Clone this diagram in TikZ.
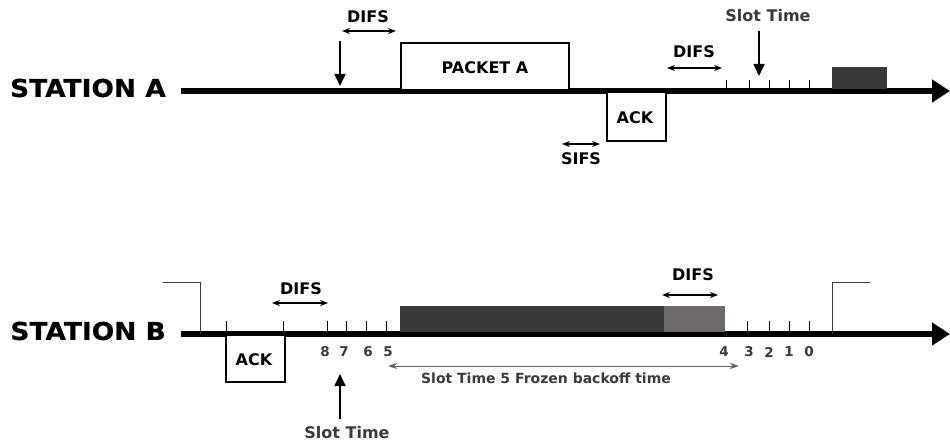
\documentclass[tikz,border=0pt]{standalone}
\usepackage{fontspec}
\setmainfont{DejaVu Sans}
\newfontfamily\widebold[FakeStretch=1.08,FakeBold=0.6]{DejaVu Sans Bold}
\usetikzlibrary{arrows.meta}
\definecolor{darkbar}{HTML}{3B3839}
\definecolor{lightbar}{HTML}{6E696A}
\definecolor{txtgray}{HTML}{3A3A3A}
\tikzset{
  timeline/.style={line width=6pt, -{Triangle[length=18pt,width=22pt]}, color=black},
  tick/.style={line width=1pt},
  lbl/.style={font=\fontsize{16}{16}\selectfont\bfseries, inner sep=0pt},
  small/.style={font=\fontsize{13.5}{13.5}\selectfont\bfseries, inner sep=0pt, text=txtgray},
  station/.style={font=\fontsize{24.5}{24.5}\selectfont\widebold, inner sep=0pt, anchor=east},
  dbl/.style={line width=1.3pt, {Stealth[length=8pt,width=6pt]}-{Stealth[length=8pt,width=6pt]}},
  downarr/.style={line width=1.6pt, -{Triangle[length=12pt,width=11pt]}},
  frame/.style={draw=black, line width=1.6pt, fill=white},
  bracket/.style={line width=1pt, color=txtgray},
}
\begin{document}
\begin{tikzpicture}[x=1pt,y=-1pt]
\useasboundingbox (0,0) rectangle (950,443);
% ---------------- Station A ----------------
\node[station] (sa) at (166,88) {STATION A};
\coordinate (a0) at (181,91);
\coordinate (a1) at (950,91);
\draw[timeline] (a0) -- (a1);
% packet A
\node[frame, minimum width=168pt, minimum height=47pt, anchor=south west] (pa) at (400,91) {};
\node[lbl] (pat) at (485,68) {PACKET A};
% ACK A
\node[frame, minimum width=59pt, minimum height=49pt, anchor=north west] (acka) at (606,91) {};
\node[lbl] (ackat) at (635,118) {ACK};
% DIFS 1
\node[lbl] (d1) at (368,17) {DIFS};
\coordinate (d1l) at (342,31); \coordinate (d1r) at (396,31);
\draw[dbl] (d1l) -- (d1r);
\coordinate (aa0) at (340,41); \coordinate (aa1) at (340,86);
\draw[downarr] (aa0) -- (aa1);
% SIFS
\coordinate (sl) at (562,144); \coordinate (sr) at (600,144);
\draw[dbl] (sl) -- (sr);
\node[lbl] (sifs) at (581,159) {SIFS};
% DIFS 2
\node[lbl] (d2) at (694,52) {DIFS};
\coordinate (d2l) at (667,68); \coordinate (d2r) at (722,68);
\draw[dbl] (d2l) -- (d2r);
% ticks A
\foreach \x [count=\i] in {726,749,769,789,809}{
  \coordinate (ta\i) at (\x,80); \coordinate (tb\i) at (\x,89);
  \draw[tick] (ta\i) -- (tb\i);
}
% slot time A
\node[lbl, text=txtgray] (sta) at (768,16) {Slot Time};
\coordinate (st0) at (759,31); \coordinate (st1) at (759,76);
\draw[downarr] (st0) -- (st1);
% dark box A
\fill[darkbar] (832,67) rectangle (887,89);
% ---------------- Station B ----------------
\node[station] (sb) at (166,331) {STATION B};
\coordinate (b0) at (181,334);
\coordinate (b1) at (950,334);
\draw[timeline] (b0) -- (b1);
% brackets
\coordinate (bl0) at (163,283); \coordinate (bl1) at (200,283); \coordinate (bl2) at (200,334);
\draw[bracket] (bl0) -- (bl1) -- (bl2);
\coordinate (br0) at (832,334); \coordinate (br1) at (832,283); \coordinate (br2) at (870,283);
\draw[bracket] (br0) -- (br1) -- (br2);
% bars
\fill[darkbar] (400,306) rectangle (664,332);
\fill[lightbar] (664,306) rectangle (725,332);
% ACK B
\node[frame, minimum width=59pt, minimum height=47pt, anchor=north west] (ackb) at (225,334) {};
\node[lbl] (ackbt) at (254,360) {ACK};
% ticks B
\foreach \x [count=\i] in {226,283,327,346,366,386,747,769,789,809}{
  \coordinate (tc\i) at (\x,321); \coordinate (td\i) at (\x,333);
  \draw[tick] (tc\i) -- (td\i);
}
% DIFS B1
\node[lbl] (d3) at (301,289) {DIFS};
\coordinate (d3l) at (272,303); \coordinate (d3r) at (328,303);
\draw[dbl] (d3l) -- (d3r);
% DIFS B2
\node[lbl] (d4) at (693,275) {DIFS};
\coordinate (d4l) at (662,295); \coordinate (d4r) at (718,295);
\draw[dbl] (d4l) -- (d4r);
% numbers
\foreach \x/\n in {325/8,344/7,368/6,388/5,724/4,749/3,769/2,789/1,809/0}{
  \node[small] (n\n) at (\x,352) {\n};
}
% frozen backoff arrow
\coordinate (fl) at (388,366); \coordinate (fr) at (739,366);
\draw[line width=1pt, color=txtgray!80, {Stealth[length=9pt,width=6pt]}-{Stealth[length=9pt,width=6pt]}] (fl) -- (fr);
\node[small, font=\fontsize{14}{14}\selectfont\bfseries] (fz) at (546,378) {Slot Time 5 Frozen backoff time};
% slot time B
\coordinate (su0) at (340,419); \coordinate (su1) at (340,374);
\draw[downarr] (su0) -- (su1);
\node[lbl, text=txtgray] (stb) at (347,433) {Slot Time};
\end{tikzpicture}
\end{document}
